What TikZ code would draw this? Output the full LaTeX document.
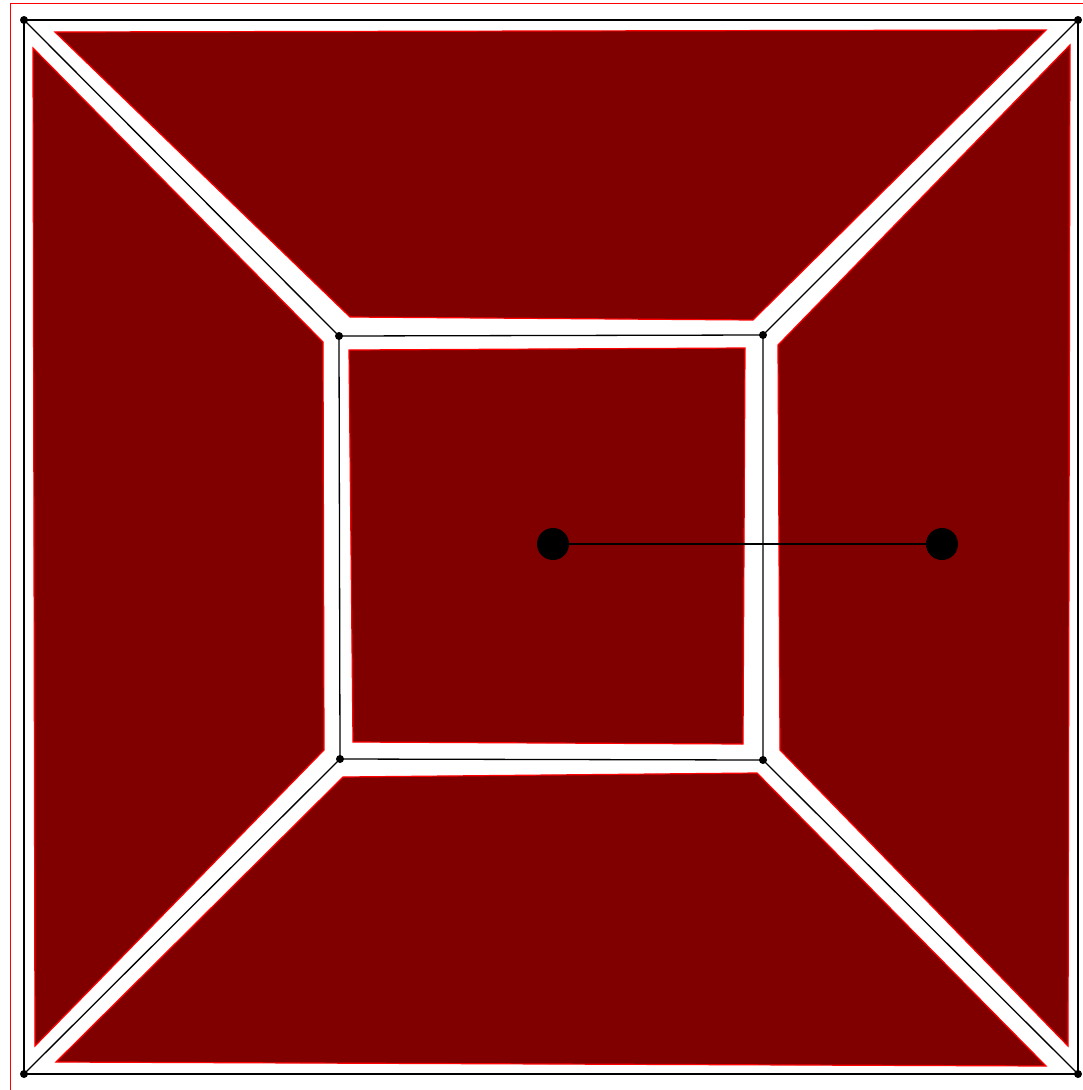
\documentclass[tikz,border=0pt]{standalone}
\begin{document}
\begin{tikzpicture}[x=1pt,y=-1pt,
  face/.style={fill={rgb,255:red,128;green,0;blue,0}, draw=red, line width=1.2pt},
  edge/.style={draw=black, line width=1.3pt},
  vdot/.style={circle, fill=black, inner sep=0pt, minimum size=8pt},
  bigdot/.style={circle, fill=black, inner sep=0pt, minimum size=32pt}]
\useasboundingbox (0,0) rectangle (1083,1090);
\clip (0,0) rectangle (1083,1090);
\fill[white] (0,0) rectangle (1083,1090);
\draw[red, line width=1pt] (10,3) rectangle (1100,1110);
% faces
\draw[face] (55,32) -- (1046,30) -- (753,320) -- (350,317) -- cycle;
\draw[face] (33,48) -- (323,342) -- (324,750) -- (35,1046) -- cycle;
\draw[face] (1070,45) -- (1068,1046) -- (780,750) -- (778,345) -- cycle;
\draw[face] (56,1062) -- (343,777) -- (757,773) -- (1046,1066) -- cycle;
\draw[face] (349,350) -- (745,348) -- (743,744) -- (353,742) -- cycle;
% vertices
\node[vdot] (a) at (24,20) {};
\node[vdot] (b) at (1078,20) {};
\node[vdot] (c) at (1078,1074) {};
\node[vdot] (d) at (24,1074) {};
\node[vdot] (e) at (339,336) {};
\node[vdot] (f) at (763,335) {};
\node[vdot] (g) at (763,760) {};
\node[vdot] (h) at (340,759) {};
\draw[edge] (a.center) -- (b.center) -- (c.center) -- (d.center) -- (a.center);
\draw[edge] (e.center) -- (f.center) -- (g.center) -- (h.center) -- (e.center);
\draw[edge] (a.center) -- (e.center);
\draw[edge] (b.center) -- (f.center);
\draw[edge] (c.center) -- (g.center);
\draw[edge] (d.center) -- (h.center);
\node[bigdot] (p) at (553,544) {};
\node[bigdot] (q) at (942,544) {};
\draw[edge] (p) -- (q);
\end{tikzpicture}
\end{document}
